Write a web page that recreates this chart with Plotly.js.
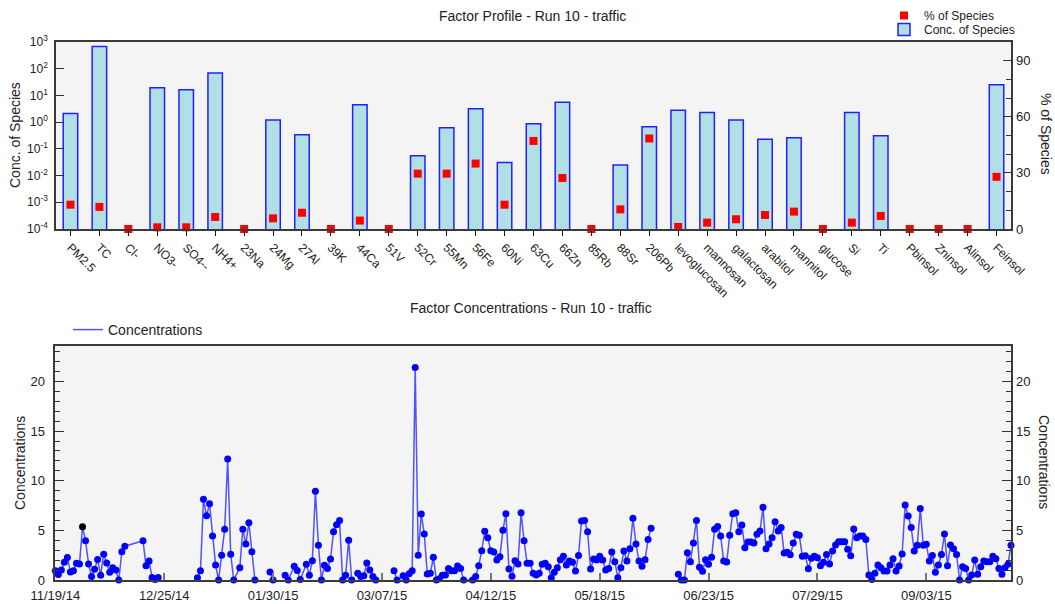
<!DOCTYPE html>
<html>
<head>
<meta charset="utf-8">
<script src="https://cdn.plot.ly/plotly-3.0.1.min.js"></script>
<style>
  html, body { margin: 0; padding: 0; background: #ffffff; }
  #chart { width: 1055px; height: 604px; }
</style>
</head>
<body>
<div id="chart"></div>
<script>
// Factor profile: species, concentration of each species in the factor, and % of species total
const species = ['PM2.5', 'TC', 'Cl-', 'NO3-', 'SO4--', 'NH4+', '23Na', '24Mg', '27Al', '39K', '44Ca',
  '51V', '52Cr', '55Mn', '56Fe', '60Ni', '63Cu', '66Zn', '85Rb', '88Sr', '206Pb', 'levoglucosan',
  'mannosan', 'galactosan', 'arabitol', 'mannitol', 'glucose', 'Si', 'Ti', 'Pbinsol', 'Zninsol',
  'Alinsol', 'Feinsol'];
const concOfSpecies = [2.1, 680, 0, 19.4, 16.3, 69, 0, 1.2, 0.34, 0, 4.5,
  0, 0.055, 0.62, 3.2, 0.031, 0.87, 5.5, 0, 0.025, 0.67, 2.8,
  2.3, 1.2, 0.23, 0.26, 0, 2.3, 0.31, 0, 0,
  0, 25];
const pctOfSpecies = [13.0, 11.8, 0, 0.9, 0.9, 6.4, 0, 5.7, 8.7, 0, 4.5,
  0, 29.6, 29.6, 35.0, 13.0, 47.1, 27.3, 0, 10.5, 48.4, 1.1,
  3.4, 5.2, 7.5, 9.3, 0, 3.4, 7.0, 0, 0,
  0, 27.9];
const concTickVals = [1e-4, 1e-3, 1e-2, 1e-1, 1e0, 1e1, 1e2, 1e3];
const concTickText = ['10<sup>-4</sup>', '10<sup>-3</sup>', '10<sup>-2</sup>', '10<sup>-1</sup>',
  '10<sup>0</sup>', '10<sup>1</sup>', '10<sup>2</sup>', '10<sup>3</sup>'];

// Factor contributions: sampling day (days after the first sample) and concentration.
// A null concentration marks a break in the line between sampling campaigns.
const firstSampleDate = '2014-11-19';
const lastSampleDay = 316;
const sampleDay = [
  0, 1, 2, 3, 4, 5, 6, 7, 8, 9, 10, 11, 12, 13, 14, 15, 16, 17, 18, 19, 20, 21, 22, 23, 29, 30, 31, 32, 33, 34,
  40,
  47, 48, 49, 50, 51, 52, 53, 54, 55, 56, 57, 58, 59, 61, 62, 63, 64, 65, 66,
  68,
  71, 72,
  74,
  76, 77, 79, 80, 81, 83, 84, 85, 86, 87, 88, 89, 90, 91, 92, 93, 94, 95, 96, 97, 98,
  99,
  100, 101, 102, 103, 104, 105, 106,
  109,
  112, 113,
  114,
  115, 116, 117, 118, 119, 120, 121, 122, 123, 124, 125, 126, 127, 128, 129, 130, 131, 132, 133, 134, 135,
  138, 139, 140, 141, 142, 143, 144, 145, 146, 147, 148, 149, 150, 151, 152, 153, 154, 155, 156, 157,
  158, 159, 160, 161, 162, 163, 164, 165, 166, 167, 168, 169, 170, 171, 172, 173, 174, 175, 176, 177,
  178, 179, 180, 181, 182, 183, 184, 185, 186, 187, 188, 189, 190, 191, 192, 193, 194, 195, 196, 197,
  200,
  206, 207, 208, 209, 210, 211, 212, 213, 214, 215, 216, 217, 218, 219, 220, 221, 222, 223, 224, 225,
  226, 227, 228, 229, 230, 231, 232, 233, 234, 235, 236, 237, 238, 239, 240, 241, 242, 243, 244, 245,
  246, 247, 248, 249, 250, 251, 252, 253, 254, 255, 256, 257, 258, 259, 260, 261, 262, 263, 264, 265,
  266, 267, 268, 269, 270, 271, 272, 273, 274, 275, 276, 277, 278, 279, 280, 281, 282, 283, 284, 285,
  286, 287, 288, 289, 290, 291, 292, 293, 294, 295, 296, 297, 298, 299, 300, 301, 302, 303, 304, 305,
  306, 307, 308, 309, 310, 311, 312, 313, 314, 315, 316
];
const concentration = [
  0.92, 0.55, 1.0, 1.8, 2.27, 0.8, 0.92, 1.68, 1.6, 5.37, 3.96, 1.6, 0.34, 1.08, 2.07, 0.47, 2.6, 1.7, 0.77, 1.24, 1.0, 0, 2.85, 3.4, 3.96, 1.44, 1.91, 0.25, 0.05, 0.25,
  null,
  0.23, 0.92, 8.13, 6.46, 7.68, 4.43, 1.5, 0, 2.5, 5.1, 12.18, 2.6, 0, 1.24, 5.1, 3.62, 5.77, 2.84, 0,
  null,
  0.8, 0,
  null,
  0.47, 0, 1.38, 0.95, 0.05, 1.58, 0.47, 1.95, 8.93, 3.5, 0, 1.49, 1.15, 2.12, 4.85, 5.57, 6.0, 0, 0.47, 4.0, 0,
  null,
  0.67, 0.36, 0.42, 1.7, 1.0, 0.36, 0,
  null,
  0.92, 0,
  null,
  0.44, 0, 0.62, 0.92, 21.4, 2.5, 6.64, 4.63, 0.6, 0.67, 2.28, 0, 0.13, 0.47, 0.5, 1.17, 0.94, 0.94, 1.41, 1.17, 0,
  0, 0.34, 1.44, 2.95, 4.9, 4.26, 2.95, 2.82, 2.01, 2.35, 5.0, 6.68, 1.1, 0.37, 1.95, 1.61, 6.78, 3.96, 1.68, 1.68,
  0.67, 0.5, 0.67, 1.58, 1.68, 1.34, 0.23, 0.77, 1.24, 2.05, 2.38, 1.51, 1.91, 1.78, 0.9, 2.48, 5.94, 6.0, 4.87, 1.1,
  2.11, 2.01, 2.38, 2.01, 1.0, 1.17, 2.82, 1.85, 0.23, 1.24, 2.92, 1.91, 3.15, 6.21, 3.62, 1.91, 1.38, 2.05, 4.09, 5.2,
  null,
  0.57, 0, 0, 2.75, 1.85, 3.72, 6.0, 1.28, 0.87, 2.05, 1.58, 2.28, 5.1, 5.4, 4.43, 1.91, 1.81, 4.5, 6.68, 6.78,
  4.87, 5.54, 3.26, 3.83, 3.83, 3.72, 4.6, 4.93, 7.32, 3.15, 3.62, 4.26, 5.87, 4.93, 5.3, 2.72, 2.79, 2.55, 3.72, 4.6,
  4.5, 2.38, 2.45, 1.14, 2.18, 2.38, 2.25, 1.44, 1.78, 2.58, 1.61, 2.92, 3.52, 3.86, 3.86, 3.86, 3.09, 2.45, 5.13, 4.26,
  4.43, 4.43, 4.09, 0.5, 0.05, 0.67, 1.51, 1.24, 0.9, 0.9, 1.51, 2.15, 0.9, 1.41, 2.62, 7.55, 6.44, 5.3, 2.92, 3.49,
  7.21, 3.49, 3.59, 1.91, 2.48, 0.77, 1.51, 2.58, 4.63, 1.44, 3.52, 3.15, 2.58, 0, 1.34, 1.17, 0, 0.5, 2.01, 0.57,
  1.34, 1.91, 1.85, 1.85, 2.38, 2.15, 1.17, 0.57, 1.24, 1.58, 3.49
];
// The currently selected sample is drawn in black
const selectedSampleDay = 9;

const DAY_MS = 864e5;
const t0 = Date.parse(firstSampleDate + 'T00:00:00Z');
const toDate = d => new Date(t0 + d * DAY_MS).toISOString().slice(0, 10);
const sampleDates = sampleDay.map(toDate);
const markerColors = sampleDay.map(d => (d === selectedSampleDay ? '#000000' : '#0000ff'));

const W = 1055, H = 604;
const FONT = 'Liberation Sans, Arial, Helvetica, sans-serif';
const TEXT = '#222222';
const FRAME = '#3a3a3a';
const CONC_RANGE = [0, 23.6];

// Plot-area rectangles in pixels: [left, top, right, bottom]
const topBox = [56, 42, 1011, 229];
const botBox = [55.3, 345.7, 1011, 580];
const xDom = b => [b[0] / W, b[2] / W];
const yDom = b => [1 - b[3] / H, 1 - b[1] / H];

const traces = [
  {
    type: 'bar',
    name: 'Conc. of Species',
    legend: 'legend2',
    x: species,
    y: concOfSpecies,
    xaxis: 'x', yaxis: 'y',
    marker: { color: '#b0e0e6', line: { color: '#2020ff', width: 1.5 } },
    hoverinfo: 'x+y'
  },
  {
    type: 'scatter',
    mode: 'markers',
    name: '% of Species',
    legend: 'legend',
    x: species,
    y: pctOfSpecies,
    xaxis: 'x', yaxis: 'y2',
    cliponaxis: false,
    marker: { symbol: 'square', size: 8, color: '#ff0000' }
  },
  {
    type: 'scatter',
    mode: 'lines',
    name: 'Concentrations',
    legend: 'legend3',
    x: sampleDates,
    y: concentration,
    xaxis: 'x2', yaxis: 'y3',
    connectgaps: false,
    line: { color: 'rgba(40,40,255,0.8)', width: 1.5 }
  },
  {
    // sample points, read against the right-hand axis (same scale as the left one)
    type: 'scatter',
    mode: 'markers',
    name: 'Concentrations',
    showlegend: false,
    x: sampleDates,
    y: concentration,
    xaxis: 'x2', yaxis: 'y4',
    cliponaxis: false,
    marker: { size: 7, color: markerColors }
  }
];

const frameAxis = {
  showline: true, mirror: true, linecolor: FRAME, linewidth: 1.5,
  showgrid: false, zeroline: false, automargin: false
};

const ann = (text, x, y, size, angle) => ({
  text, x: x / W, y: 1 - y / H, xref: 'paper', yref: 'paper',
  xanchor: 'center', yanchor: 'middle', showarrow: false,
  textangle: angle || 0, font: { family: FONT, size, color: TEXT }
});

const layout = {
  width: W, height: H,
  margin: { l: 0, r: 0, t: 0, b: 0 },
  paper_bgcolor: '#ffffff',
  plot_bgcolor: '#f4f4f4',
  font: { family: FONT, size: 13, color: TEXT },
  bargap: 0.5,
  showlegend: true,
  xaxis: Object.assign({}, frameAxis, {
    domain: xDom(topBox), anchor: 'y', type: 'category', range: [-0.5, species.length - 0.5],
    tickangle: 45, ticks: 'outside', ticklen: 5, tickwidth: 1.2, tickcolor: '#111',
    tickfont: { size: 12, color: TEXT }
  }),
  yaxis: Object.assign({}, frameAxis, {
    domain: yDom(topBox), anchor: 'x', type: 'log', range: [-4, 3],
    tickvals: concTickVals, ticktext: concTickText,
    ticks: 'inside', ticklen: 8, tickwidth: 1.2, tickcolor: '#333',
    ticklabelstandoff: 4, tickfont: { size: 12, color: TEXT }
  }),
  yaxis2: {
    overlaying: 'y', side: 'right', anchor: 'x', range: [0, 100],
    tick0: 0, dtick: 30, ticks: 'inside', ticklen: 8, tickwidth: 1.2, tickcolor: '#333',
    minor: { dtick: 10, ticks: 'inside', ticklen: 5, tickcolor: '#333', tickwidth: 1 },
    showgrid: false, zeroline: false, showline: false, automargin: false,
    ticklabelstandoff: 4, tickfont: { size: 13, color: TEXT }
  },
  xaxis2: Object.assign({}, frameAxis, {
    domain: xDom(botBox), anchor: 'y3', type: 'date',
    range: [firstSampleDate, toDate(lastSampleDay)],
    tick0: firstSampleDate, dtick: 36 * DAY_MS, tickformat: '%m/%d/%y',
    ticks: 'inside', ticklen: 7, tickwidth: 1.5, tickcolor: '#777',
    ticklabelstandoff: 3, tickfont: { size: 13, color: TEXT }
  }),
  yaxis3: Object.assign({}, frameAxis, {
    domain: yDom(botBox), anchor: 'x2', range: CONC_RANGE,
    tick0: 0, dtick: 5, ticks: 'inside', ticklen: 9, tickwidth: 1.2, tickcolor: '#333',
    minor: { dtick: 1, ticks: 'inside', ticklen: 5, tickcolor: '#333', tickwidth: 1 },
    ticklabelstandoff: 6, tickfont: { size: 13, color: TEXT }
  }),
  yaxis4: {
    overlaying: 'y3', side: 'right', anchor: 'x2', range: CONC_RANGE,
    tick0: 0, dtick: 5, ticks: 'inside', ticklen: 9, tickwidth: 1.2, tickcolor: '#333',
    minor: { dtick: 1, ticks: 'inside', ticklen: 5, tickcolor: '#333', tickwidth: 1 },
    showgrid: false, zeroline: false, showline: false, automargin: false,
    ticklabelstandoff: 4, tickfont: { size: 13, color: TEXT }
  },
  legend: {
    x: 884 / W, y: 1 - 15.5 / H, xanchor: 'left', yanchor: 'middle',
    bgcolor: 'rgba(0,0,0,0)', borderwidth: 0, font: { size: 12, color: TEXT }
  },
  legend2: {
    x: 884 / W, y: 1 - 29.5 / H, xanchor: 'left', yanchor: 'middle',
    bgcolor: 'rgba(0,0,0,0)', borderwidth: 0, font: { size: 12, color: TEXT }
  },
  legend3: {
    x: 68 / W, y: 1 - 330 / H, xanchor: 'left', yanchor: 'middle',
    bgcolor: 'rgba(0,0,0,0)', borderwidth: 0, font: { size: 14, color: TEXT }
  },
  annotations: [
    ann('Factor Profile - Run 10 - traffic', 532, 16, 14),
    ann('Conc. of Species', 15, 135, 14, -90),
    ann('% of Species', 1046, 134, 14, 90),
    ann('Factor Concentrations - Run 10 - traffic', 531, 308, 14),
    ann('Concentrations', 20, 463, 14, -90),
    ann('Concentrations', 1044, 462, 14, 90)
  ]
};

Plotly.newPlot('chart', traces, layout, { displayModeBar: false, responsive: false });
</script>
</body>
</html>
